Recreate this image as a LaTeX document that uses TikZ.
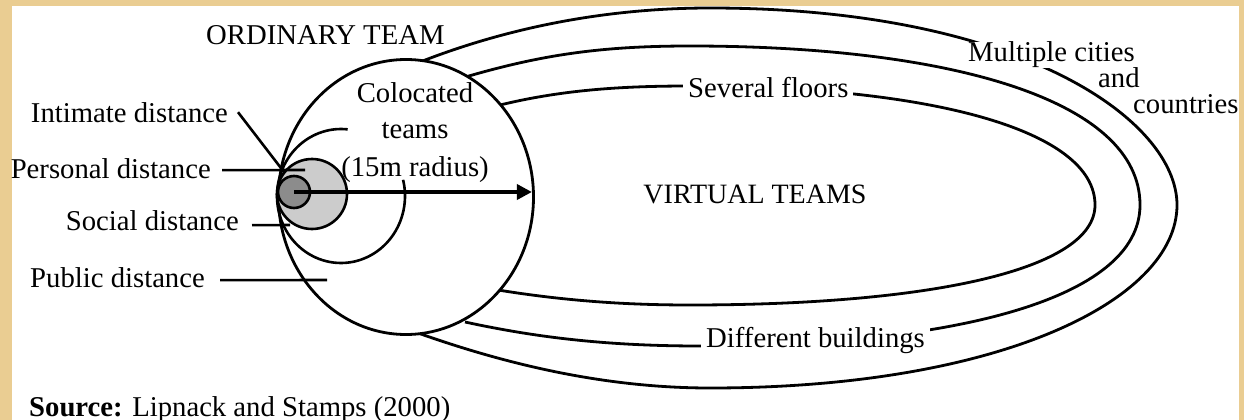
\documentclass[tikz,border=0pt]{standalone}
\usepackage{fontspec}
\setmainfont{Liberation Serif}
\usepackage{tikz}
\usetikzlibrary{shapes.geometric, arrows.meta, positioning}
\definecolor{parchment}{RGB}{234,205,146}
\definecolor{lightzone}{RGB}{204,204,204}
\definecolor{darkzone}{RGB}{140,140,140}
\tikzstyle{lbl} = [inner sep=0pt, font=\fontsize{28.7}{32}\selectfont]
\tikzstyle{gaplbl} = [lbl, fill=white, inner xsep=5pt, inner ysep=0pt]
\tikzstyle{zone} = [circle, draw, line width=2.6pt, inner sep=0pt]
\tikzstyle{boundary} = [line width=2.8pt]
\tikzstyle{lead} = [line width=2.6pt]
\tikzstyle{arrow} = [line width=3.6pt, -{Triangle[length=15pt, width=15pt]}]

\begin{document}
\begin{tikzpicture}[x=1pt, y=-1pt]
\useasboundingbox (0,0) rectangle (1244,420);
\fill [parchment] (0,0) rectangle (1244,420);
\fill [white] (12,6) rectangle (1239,420);

\draw [boundary] (415,64) .. controls (500,30) and (600,8) .. (710,8)
  .. controls (1020,8) and (1177,120) .. (1177,205)
  .. controls (1177,300) and (1000,388) .. (710,388)
  .. controls (600,388) and (500,362) .. (418,333);
\draw [boundary] (462,78) .. controls (540,55) and (600,46) .. (690,46)
  .. controls (950,46) and (1140,100) .. (1140,205)
  .. controls (1140,300) and (950,346) .. (700,346)
  .. controls (600,346) and (530,336) .. (465,322);
\draw [boundary] (496,106) .. controls (560,90) and (620,86) .. (690,86)
  .. controls (930,86) and (1095,130) .. (1095,205)
  .. controls (1095,270) and (930,305) .. (690,305)
  .. controls (620,305) and (560,300) .. (498,290);

\node (floors) [gaplbl, anchor=base west] at (683,97) {Several floors};
\node (cities) [gaplbl, anchor=base west] at (963,62) {Multiple cities};
\node (and) [lbl, anchor=base west] at (1098,88) {and};
\node (countries) [lbl, anchor=base west] at (1133,113) {countries};
\node (buildings) [gaplbl, anchor=base west] at (701,347) {Different buildings};

\node (ordinary) [ellipse, draw, fill=white, line width=2.8pt, minimum width=255, minimum height=275, inner sep=0pt] at (406,197) {};
\draw [lead] plot [domain=-84:-374, samples=90] ({341+64*cos(\x)}, {196+67*sin(\x)});
\node (personalzone) [zone, fill=lightzone, minimum size=70] at (312,194) {};
\node (intimatezone) [zone, fill=darkzone, minimum size=32] at (294,192) {};
\draw [arrow] (intimatezone.center) -- ([xshift=-3pt]intimatezone.center -| ordinary.east);

\node (intimatelbl) [lbl, anchor=base east] at (228,122) {Intimate distance};
\node (personallbl) [lbl, anchor=base east] at (211,178) {Personal distance};
\node (sociallbl) [lbl, anchor=base east] at (239,230) {Social distance};
\node (publiclbl) [lbl, anchor=base east] at (205,287) {Public distance};
\coordinate (intimatetip) at (284,172);
\coordinate (personaltip) at (305,170);
\coordinate (socialtip) at (290,225);
\coordinate (publictip) at (327,280);
\draw [lead] ([xshift=10pt]intimatelbl.east) -- (intimatetip);
\draw [lead] ([xshift=11pt,yshift=-2pt]personallbl.east) -- (personaltip);
\draw [lead] ([xshift=13pt,yshift=-5pt]sociallbl.east) -- (socialtip);
\draw [lead] ([xshift=15pt,yshift=-3pt]publiclbl.east) -- (publictip);

\node (ordinarylbl) [lbl, anchor=base west] at (206,45) {ORDINARY TEAM};
\node (colocated) [lbl, anchor=base] at (415,102) {Colocated};
\node (teams) [lbl, anchor=base] at (415,138) {teams};
\node (radius) [lbl, anchor=base] at (415,176) {(15m radius)};
\node (virtual) [lbl, anchor=base, font=\fontsize{28}{30}\selectfont] at (755,203) {VIRTUAL TEAMS};
\node (source) [lbl, anchor=base west] at (29,416) {\textbf{Source:} Lipnack and Stamps (2000)};
\end{tikzpicture}
\end{document}
